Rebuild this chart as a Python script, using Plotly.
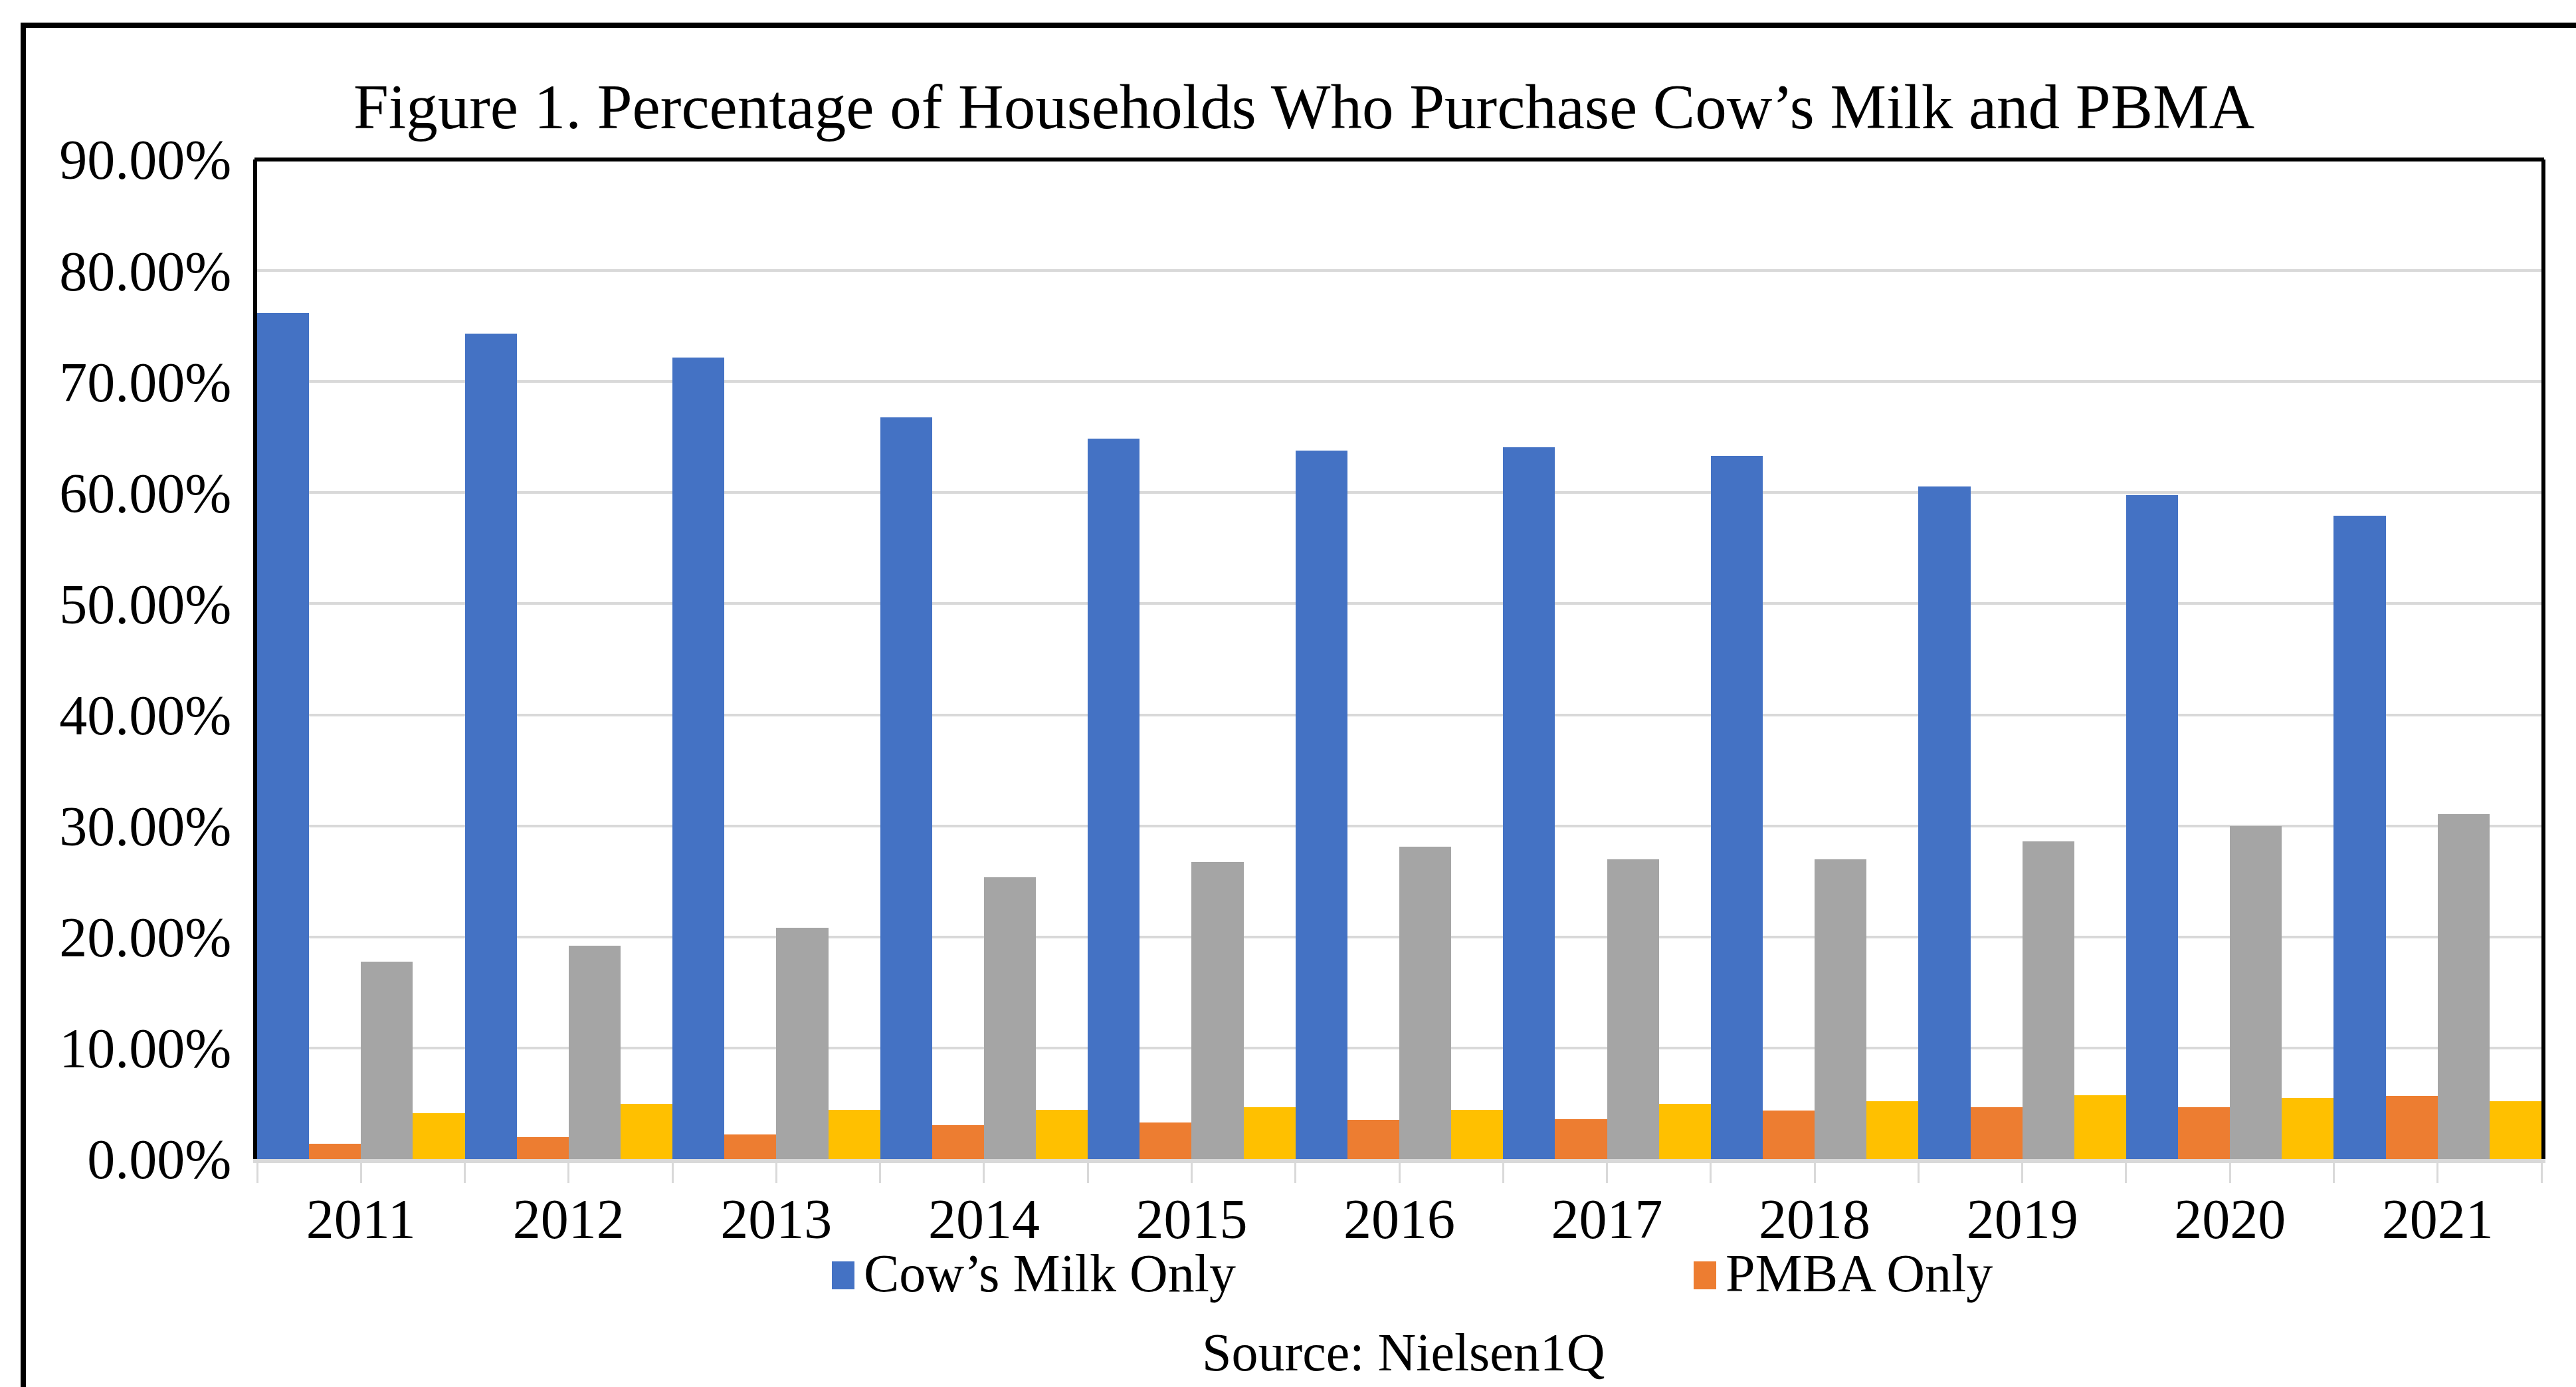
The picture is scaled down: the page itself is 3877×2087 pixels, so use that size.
import plotly.graph_objects as go

# ---------------- data ----------------
years = ["2011", "2012", "2013", "2014", "2015", "2016", "2017", "2018", "2019", "2020", "2021"]
cow_milk_only = [76.19, 74.30, 72.16, 66.77, 64.88, 63.82, 64.08, 63.29, 60.55, 59.80, 57.94]
pbma_only = [1.39, 2.00, 2.24, 3.04, 3.30, 3.56, 3.58, 4.38, 4.68, 4.68, 5.70]
both_products = [17.80, 19.20, 20.80, 25.39, 26.72, 28.11, 26.98, 26.98, 28.58, 29.97, 31.03]
neither_product = [4.14, 4.94, 4.40, 4.40, 4.64, 4.40, 4.94, 5.20, 5.74, 5.48, 5.20]
y_tick_values = [0, 10, 20, 30, 40, 50, 60, 70, 80, 90]
y_tick_labels = [f"{v:.2f}%" for v in y_tick_values]

series_names = ["Cow’s Milk Only", "PMBA Only", "Both", "Neither"]
series_colors = ["#4472C4", "#ED7D31", "#A5A5A5", "#FFC000"]

# ---------------- geometry ----------------
W, H = 3877, 2087
ML, MR, MT, MB = 387, 52, 240, 343
PW = W - ML - MR
PH = H - MT - MB


def px_x(px):
    return (px - ML) / PW


def px_y(py):
    return (H - MB - py) / PH


FONT = "Liberation Serif, Times New Roman, serif"

x_index = list(range(len(years)))

fig = go.Figure()
for name, vals, col in zip(series_names,
                           [cow_milk_only, pbma_only, both_products, neither_product],
                           series_colors):
    fig.add_trace(go.Bar(x=x_index, y=vals, name=name, marker=dict(color=col, line=dict(width=0)),
                         showlegend=False))

# ticks at category boundaries and category centres (as in the original)
tick_positions = [i * 0.5 - 0.5 for i in range(2 * len(years) + 1)]
tick_texts = [years[int(p)] if float(p).is_integer() else "" for p in tick_positions]

fig.update_layout(
    width=W, height=H,
    margin=dict(l=ML, r=MR, t=MT, b=MB, pad=0),
    barmode="group", bargap=0, bargroupgap=0,
    plot_bgcolor="white", paper_bgcolor="white",
    showlegend=False,
    font=dict(family=FONT, color="black"),
    xaxis=dict(
        range=[-0.5, len(years) - 0.5],
        tickmode="array", tickvals=tick_positions, ticktext=tick_texts,
        ticks="outside", ticklen=30, tickwidth=3, tickcolor="#D9D9D9",
        showline=True, linecolor="#D9D9D9", linewidth=6,
        showgrid=False, zeroline=False,
        tickfont=dict(family=FONT, size=84, color="black"),
        ticklabelstandoff=-18,
    ),
    yaxis=dict(
        range=[0, 90],
        tickmode="array", tickvals=y_tick_values, ticktext=y_tick_labels,
        showgrid=True, gridcolor="#D9D9D9", gridwidth=4,
        showline=True, linecolor="black", linewidth=6, mirror=True,
        ticks="", zeroline=False,
        tickfont=dict(family=FONT, size=84, color="black"),
        ticklabelstandoff=16,
    ),
)

shapes = [
    # plot-area top border
    dict(type="line", xref="paper", yref="paper", x0=px_x(383), x1=px_x(3829), y0=1, y1=1,
         line=dict(color="black", width=6)),
    # outer frame (cut off at right and bottom as in the original)
    dict(type="rect", xref="paper", yref="paper", x0=px_x(35), x1=px_x(3920), y0=px_y(38), y1=px_y(2130),
         line=dict(color="black", width=8), fillcolor="rgba(0,0,0,0)", layer="below"),
    # legend keys
    dict(type="rect", xref="paper", yref="paper", x0=px_x(1252), x1=px_x(1286), y0=px_y(1940), y1=px_y(1898),
         line=dict(width=0), fillcolor=series_colors[0]),
    dict(type="rect", xref="paper", yref="paper", x0=px_x(2549), x1=px_x(2583), y0=px_y(1940), y1=px_y(1898),
         line=dict(width=0), fillcolor=series_colors[1]),
]
fig.update_layout(shapes=shapes)

annotations = [
    dict(text="Figure 1. Percentage of Households Who Purchase Cow’s Milk and PBMA",
         x=px_x(1962), y=px_y(161), xanchor="center", yanchor="middle",
         font=dict(family=FONT, size=95, color="black")),
    dict(text=series_names[0], x=px_x(1298), y=px_y(1916), xanchor="left", yanchor="middle",
         font=dict(family=FONT, size=80, color="black")),
    dict(text=series_names[1], x=px_x(2595), y=px_y(1916), xanchor="left", yanchor="middle",
         font=dict(family=FONT, size=80, color="black")),
    dict(text="Source: Nielsen1Q", x=px_x(2112), y=px_y(2035), xanchor="center", yanchor="middle",
         font=dict(family=FONT, size=80, color="black")),
]
for a in annotations:
    a.update(xref="paper", yref="paper", showarrow=False)
fig.update_layout(annotations=annotations)

fig.write_html("out.html")
